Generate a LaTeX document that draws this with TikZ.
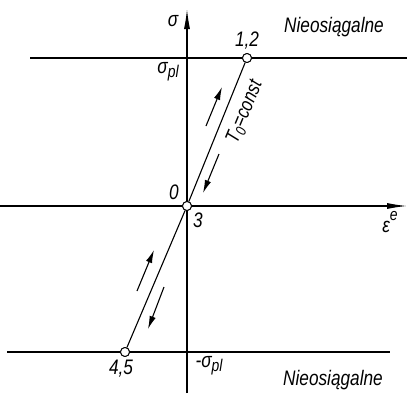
\documentclass[tikz,border=0pt]{standalone}
\usepackage{fontspec}
\setmainfont{Liberation Sans}
\newfontfamily\narrowfont[FakeStretch=0.82]{Liberation Sans}
\usetikzlibrary{arrows.meta}
\begin{document}
\begin{tikzpicture}[x=1pt,y=-1pt,
  axis/.style={line width=1.1pt,-{Latex[length=20pt,width=6pt]}},
  limit/.style={line width=2.2pt},
  pathline/.style={line width=1.1pt},
  dirarrow/.style={line width=1.1pt,-{Latex[length=13pt,width=6.5pt]}},
  pt/.style={circle,draw,line width=0.9pt,fill=white,inner sep=0pt,minimum size=9pt},
  lbl/.style={font=\narrowfont\fontsize{21}{21}\selectfont\itshape,inner sep=0pt}]
\useasboundingbox (0,0) rectangle (407,399);
% limit lines
\coordinate (tl) at (30,58);
\coordinate (tr) at (407,58);
\coordinate (bl) at (7,352);
\coordinate (br) at (390,352);
\draw[limit] (tl) -- (tr);
\draw[limit] (bl) -- (br);
% axes
\coordinate (vb) at (187,393);
\coordinate (vt) at (187,9);
\coordinate (hl) at (0,206);
\coordinate (hr) at (407,206);
\draw[axis] (vb) -- (vt);
\draw[axis] (hl) -- (hr);
% loading line
\node[pt] (p12) at (247,58) {};
\node[pt] (p45) at (125,352) {};
\node[pt] (p0) at (187,206) {};
\draw[pathline] (p45) -- (p0) -- (p12);
\node[pt] at (p12) {};
\node[pt] at (p45) {};
\node[pt] at (p0) {};
% direction arrows
\coordinate (a1s) at (206,126);
\coordinate (a1e) at (222,87);
\coordinate (a2s) at (219,154);
\coordinate (a2e) at (203,193);
\coordinate (a3s) at (137,291);
\coordinate (a3e) at (154,250);
\coordinate (a4s) at (164,287);
\coordinate (a4e) at (148,329);
\draw[dirarrow] (a1s) -- (a1e);
\draw[dirarrow] (a2s) -- (a2e);
\draw[dirarrow] (a3s) -- (a3e);
\draw[dirarrow] (a4s) -- (a4e);
% labels
\node[lbl] (sig) at (173,21) {σ};
\node[lbl] (n1) at (334,27) {Nieosiągalne};
\node[lbl] (l12) at (247,41) {1,2};
\node[lbl] (spl) at (168,72) {σ\raisebox{-0.35ex}{\fontsize{17}{17}\selectfont pl}};
\node[lbl] (l0) at (174,192) {0};
\node[lbl] (l3) at (198,220) {3};
\node[lbl] (eps) at (390,222) {ε\raisebox{1.1ex}{\fontsize{17}{17}\selectfont e}};
\node[lbl] (l45) at (121,369) {4,5};
\node[lbl] (mspl) at (209,366) {-σ\raisebox{-0.35ex}{\fontsize{17}{17}\selectfont pl}};
\node[lbl] (n2) at (333,380) {Nieosiągalne};
\node[lbl,rotate=67.5,font=\narrowfont\fontsize{20}{20}\selectfont\itshape] (t0) at (245,112) {T\raisebox{-0.35ex}{\fontsize{15}{15}\selectfont 0}=const};
\end{tikzpicture}
\end{document}
